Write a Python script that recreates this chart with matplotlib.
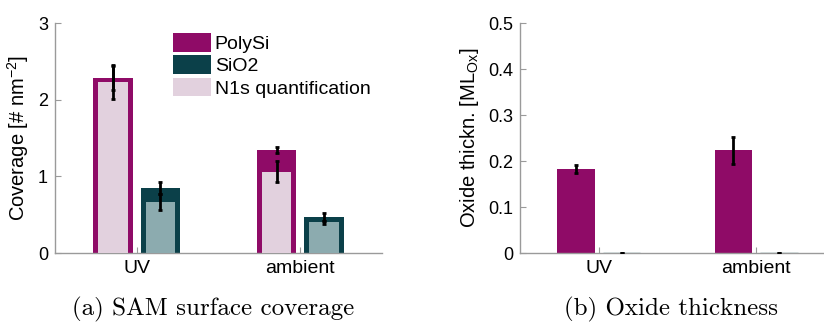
import matplotlib
matplotlib.use("Agg")
import matplotlib.pyplot as plt
import numpy as np
from matplotlib.patches import Patch

plt.rcParams['font.family'] = ['Liberation Sans', 'DejaVu Sans']
plt.rcParams['mathtext.fontset'] = 'custom'
plt.rcParams['mathtext.rm'] = 'Liberation Sans'

# Data
categories = ['UV', 'ambient']
polysi_cov = [2.28, 1.34]
polysi_cov_err = [0.16, 0.04]
sio2_cov = [0.85, 0.47]
sio2_cov_err = [0.08, 0.05]
n1s_polysi = [2.23, 1.06]
n1s_polysi_err = [0.22, 0.14]
n1s_sio2 = [0.665, 0.40]
n1s_sio2_err = [0.10, 0.02]
oxide_polysi = [0.183, 0.223]
oxide_polysi_err = [0.008, 0.029]
oxide_sio2 = [0.0, 0.0]
oxide_sio2_err = [0.0, 0.0]

c_polysi = '#8F0B67'
c_sio2 = '#0B4049'
c_n1s_polysi = '#E2D1DE'
c_n1s_sio2 = '#8CABAF'
c_axis = '#9a9a9a'

x = np.arange(1, len(categories) + 1)
off = 0.145
w_outer = 0.24
w_inner = 0.18

fig = plt.figure(figsize=(8.24, 3.27), dpi=100)
W, H = 824, 327


def make_ax(left, right, top, bottom):
    return fig.add_axes([left / W, 1 - bottom / H, (right - left) / W, (bottom - top) / H])


def style(ax):
    for s in ('top', 'right'):
        ax.spines[s].set_visible(False)
    for s in ('left', 'bottom'):
        ax.spines[s].set_color(c_axis)
        ax.spines[s].set_linewidth(1.0)
    ax.tick_params(direction='in', length=4, color=c_axis, labelsize=13,
                   labelcolor='black', pad=5)
    ax.set_xlim(0.5, 2.5)
    ax.set_xticks(x)
    ax.set_xticklabels(categories, fontsize=14)


eb_kw = dict(fmt='none', ecolor='black', elinewidth=2, capsize=1.5, capthick=2, zorder=5)

# (a) coverage
ax1 = make_ax(55, 382, 23, 253)
style(ax1)
ax1.bar(x - off, polysi_cov, width=w_outer, color=c_polysi, zorder=2)
ax1.bar(x + off, sio2_cov, width=w_outer, color=c_sio2, zorder=2)
ax1.bar(x - off, n1s_polysi, width=w_inner, color=c_n1s_polysi, zorder=3)
ax1.bar(x + off, n1s_sio2, width=w_inner, color=c_n1s_sio2, zorder=3)
ax1.errorbar(x - off, polysi_cov, yerr=polysi_cov_err, **eb_kw)
ax1.errorbar(x + off, sio2_cov, yerr=sio2_cov_err, **eb_kw)
ax1.errorbar(x - off, n1s_polysi, yerr=n1s_polysi_err, **eb_kw)
ax1.errorbar(x + off, n1s_sio2, yerr=n1s_sio2_err, **eb_kw)
ax1.set_ylim(0, 3)
ax1.set_yticks([0, 1, 2, 3])
ax1.set_ylabel('Coverage [# nm$^\\mathregular{-2}$]', fontsize=14.5, labelpad=5)

handles = [Patch(facecolor=c_polysi), Patch(facecolor=c_sio2), Patch(facecolor=c_n1s_polysi)]
ax1.legend(handles, ['PolySi', 'SiO2', 'N1s quantification'], loc='upper left',
           bbox_to_anchor=((173 - 55) / 327, (253 - 33) / 230), frameon=False,
           fontsize=14, handlelength=1.95, handleheight=1.1, handletextpad=0.2,
           labelspacing=0.12, borderaxespad=0, borderpad=0)

# (b) oxide thickness
ax2 = make_ax(520, 835, 23, 253)
style(ax2)
ax2.bar(x - off, oxide_polysi, width=w_outer, color=c_polysi, zorder=2)
ax2.bar(x + off, oxide_sio2, width=w_outer, color=c_sio2, edgecolor='#4f8088',
        linewidth=1.0, zorder=2)
ax2.errorbar(x - off, oxide_polysi, yerr=oxide_polysi_err, **eb_kw)
ax2.errorbar(x + off, oxide_sio2, yerr=oxide_sio2_err, **eb_kw)
ax2.set_ylim(0, 0.5)
ax2.set_yticks([0, 0.1, 0.2, 0.3, 0.4, 0.5])
ax2.set_yticklabels(['0', '0.1', '0.2', '0.3', '0.4', '0.5'])
ax2.set_ylabel('Oxide thickn. [ML$_\\mathregular{Ox}$]', fontsize=14.5, labelpad=5)

# captions
fig.text(213 / W, 1 - 309 / H, '(a) SAM surface coverage', family='cmr10',
         fontsize=18, ha='center', va='center')
fig.text(671 / W, 1 - 309 / H, '(b) Oxide thickness', family='cmr10',
         fontsize=18, ha='center', va='center')

fig.savefig('out.png', dpi=100)
